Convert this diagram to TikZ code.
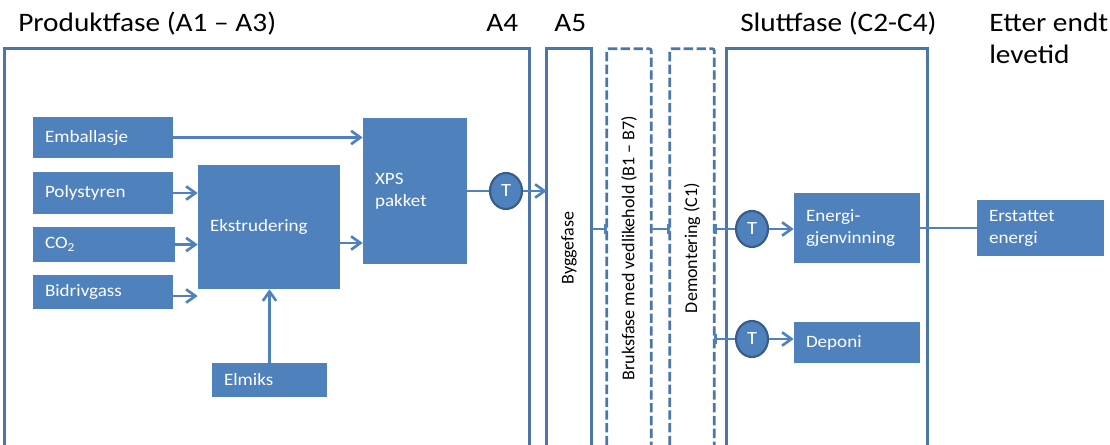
\documentclass[tikz,border=0pt]{standalone}
\usepackage{fontspec}
\setmainfont{Carlito}[FakeStretch=1.1]
\newfontfamily\vertfont{Carlito}
\usetikzlibrary{arrows.meta,shapes.geometric}
\definecolor{boxblue}{HTML}{4F81BD}
\definecolor{frameblue}{HTML}{4A76A9}
\definecolor{darkblue}{HTML}{385D8A}
\begin{document}
\begin{tikzpicture}[x=0.75pt,y=-0.75pt,
  frameanchor/.style={inner sep=0pt, minimum height=297pt},
  frameline/.style={draw=frameblue, line width=2.2pt},
  dashline/.style={draw=frameblue, line width=2pt, dash pattern=on 7pt off 2.6pt, rounded corners=1.5pt},
  bx/.style={fill=boxblue, text=white, font=\fontsize{13}{16.5}\selectfont, align=left, inner xsep=9pt, inner ysep=0pt},
  tnode/.style={ellipse, fill=boxblue, draw=darkblue, line width=1.6pt, text=white, minimum width=24pt, minimum height=27pt, inner sep=0pt, font=\fontsize{14}{16}\selectfont},
  conn/.style={draw=boxblue, line width=2pt},
  arr/.style={conn, -{Straight Barb[length=7pt,width=10pt]}},
  bartip/.style={conn, -{Bar[width=7pt]}},
  bartipstart/.style={conn, {Bar[width=7pt]}-},
  hdr/.style={anchor=base west, inner sep=0pt, font=\fontsize{20}{24}\selectfont},
  vtext/.style={rotate=90, inner sep=0pt, font=\vertfont\fontsize{13.5}{16}\selectfont},
]
\useasboundingbox (0,0) rectangle (1110,445);

% headers
\node[hdr] (hprod) at (18,32) {Produktfase (A1 – A3)};
\node[hdr] (ha4) at (486,32) {A4};
\node[hdr] (ha5) at (554,32) {A5};
\node[hdr] (hslutt) at (740,32) {Sluttfase (C2-C4)};
\node[hdr] (hetter) at (989,32) {Etter endt};
\node[hdr] (hlevetid) at (989,64) {levetid};

% phase frames (open at the bottom)
\node[frameanchor, minimum width=393pt] (prod) at (267,247) {};
\node[frameanchor, minimum width=33pt] (a5) at (569,247) {};
\node[frameanchor, minimum width=33pt] (bruk) at (629,247) {};
\node[frameanchor, minimum width=33pt] (demo) at (692,247) {};
\node[frameanchor, minimum width=150pt] (slutt) at (827,247) {};
\draw[frameline] (prod.south west) |- (prod.north east) -- (prod.south east);
\draw[frameline] (a5.south west) |- (a5.north east) -- (a5.south east);
\draw[dashline] (bruk.south west) |- (bruk.north east) -- (bruk.south east);
\draw[dashline] (demo.south west) |- (demo.north east) -- (demo.south east);
\draw[frameline] (slutt.south west) |- (slutt.north east) -- (slutt.south east);

\node[vtext] (tbygg) at (569,248) {Byggefase};
\node[vtext] (tbruk) at (629,248) {Bruksfase med vedlikehold (B1 – B7)};
\node[vtext] (tdemo) at (692,248) {Demontering (C1)};

% product phase boxes
\node[bx, text width=87pt, minimum height=30.75pt] (emb) at (103,137.5) {Emballasje};
\node[bx, text width=87pt, minimum height=31.5pt] (poly) at (103,193) {Polystyren};
\node[bx, text width=88.5pt, minimum height=26.25pt] (co2) at (104,244.5) {CO\textsubscript{2}};
\node[bx, text width=87pt, minimum height=25.5pt] (bid) at (103,292) {Bidrivgass};
\node[bx, text width=88.5pt, minimum height=93pt] (ekst) at (269,227) {Ekstrudering};
\node[bx, text width=60pt, minimum height=109.5pt] (xps) at (415,191) {XPS\\pakket};
\node[bx, text width=68.25pt, minimum height=25.5pt] (elm) at (269.5,380) {Elmiks};
\node[tnode] (t1) at (506,191) {T};

% end phase
\node[tnode] (t2) at (752,229) {T};
\node[tnode] (t3) at (752,339) {T};
\node[bx, text width=76.5pt, minimum height=52.5pt] (ener) at (857,228) {Energi-\\gjenvinning\\[4pt]};
\node[bx, text width=76.5pt, minimum height=30.75pt] (dep) at (857,342.5) {Deponi};
\node[bx, text width=77.25pt, minimum height=42pt] (erst) at (1040.5,228) {Erstattet\\energi};

% connectors
\draw[arr] (emb) -- (emb -| xps.west);
\draw[arr] (poly) -- (poly -| ekst.west);
\draw[arr] (co2) -- (co2 -| ekst.west);
\draw[arr] ([yshift=-3pt]bid.east) -- ([yshift=-3pt]bid.east -| ekst.west);
\draw[arr] ([yshift=-12pt]ekst.east) -- ([yshift=-12pt]ekst.east -| xps.west);
\draw[arr] (elm) -- (elm |- ekst.south);
\draw[conn] (xps) -- (t1);
\draw[arr] (t1) -- (t1 -| a5.west);
\draw[bartip] (t2 -| a5.east) -- (t2 -| bruk.west);
\draw[bartip] (t2 -| bruk.east) -- (t2 -| demo.west);
\draw[bartipstart] (t2 -| demo.east) -- (t2);
\draw[bartipstart] (t3 -| demo.east) -- (t3);
\draw[arr] (t2) -- (t2 -| ener.west);
\draw[arr] (t3) -- (t3 -| dep.west);
\draw[conn] (ener) -- (erst);
\end{tikzpicture}
\end{document}
